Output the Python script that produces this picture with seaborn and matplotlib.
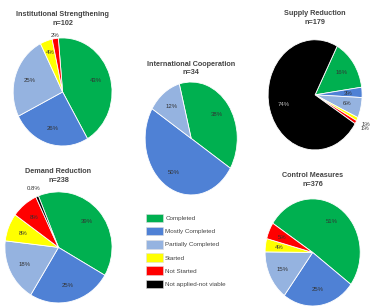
import numpy as np
import matplotlib
matplotlib.use("Agg")
import matplotlib.pyplot as plt
from matplotlib.patches import Patch
import seaborn as sns

sns.set_theme(style="white")
plt.rcParams['font.family'] = ['Liberation Sans', 'DejaVu Sans']

categories = ["Completed", "Mostly Completed", "Partially Completed",
              "Started", "Not Started", "Not applied-not viable"]
colors = ["#00B050", "#4F81D5", "#95B3E0", "#FFFF00", "#FF0000", "#000000"]

inst_values = [43, 26, 25, 4, 2, 0]
intl_values = [38, 50, 12, 0, 0, 0]
supply_values = [15, 3, 6, 1, 1, 74]
demand_values = [39, 25, 18, 8, 8, 0.8]
control_values = [51, 25, 15, 4, 5, 0]

inst_labels = ["43%", "26%", "25%", "4%", "2%", ""]
intl_labels = ["38%", "50%", "12%", "", "", ""]
supply_labels = ["16%", "3%", "6%", "1%", "1%", "74%"]
demand_labels = ["39%", "25%", "18%", "8%", "8%", "0.8%"]
control_labels = ["51%", "25%", "15%", "4%", "5%", ""]

fig = plt.figure(figsize=(3.76, 3.06), dpi=100)
fig.patch.set_facecolor("white")

def draw(rect, values, labels, title, n, startangle, title_y, radii=None):
    radii = radii or {}
    ax = fig.add_axes(rect)
    vals = np.array(values, dtype=float)
    idx = [i for i, v in enumerate(vals) if v > 0]
    wedges, _ = ax.pie(vals[idx], colors=[colors[i] for i in idx],
                       startangle=startangle, counterclock=False,
                       wedgeprops=dict(edgecolor="white", linewidth=0.6))
    ax.set_aspect("auto")
    ax.set_xlim(-1.0, 1.0)
    ax.set_ylim(-1.0, 1.0)
    for w, i in zip(wedges, idx):
        lab = labels[i]
        if not lab:
            continue
        ang = np.deg2rad((w.theta1 + w.theta2) / 2)
        r = radii.get(i, 0.7)
        tc = "#bbbbbb" if colors[i] == "#000000" and r < 1 else "#333333"
        ax.text(r * np.cos(ang), r * np.sin(ang), lab, ha="center", va="center",
                fontsize=4.3, color=tc, clip_on=False)
    ax.text(0, title_y, title + "\n" + n, ha="center", va="bottom",
            fontsize=5.2, fontweight="bold", color="#444444",
            linespacing=1.35, clip_on=False)
    ax.axis("off")
    return ax

draw([0.035, 0.523, 0.263, 0.353], inst_values, inst_labels,
     "Institutional Strengthening", "n=102", 95, 1.2, radii={4: 1.05, 3: 0.78})
draw([0.386, 0.363, 0.245, 0.369], intl_values, intl_labels,
     "International Cooperation", "n=34", 105, 1.1)
draw([0.713, 0.51, 0.25, 0.36], supply_values, supply_labels,
     "Supply Reduction", "n=179", 62, 1.25, radii={3: 1.2, 4: 1.22})
draw([0.013, 0.01, 0.285, 0.363], demand_values, demand_labels,
     "Demand Reduction", "n=238", 112, 1.14, radii={5: 1.15})
draw([0.705, 0.0, 0.253, 0.35], control_values, control_labels,
     "Control Measures", "n=376", 147, 1.2)

handles = [Patch(facecolor=c, edgecolor="#dddddd", linewidth=0.4) for c in colors]
fig.legend(handles, categories, loc="center", bbox_to_anchor=(0.495, 0.18),
           frameon=False, fontsize=4.5, handlelength=2.6, handleheight=1.7,
           labelspacing=0.75, handletextpad=0.4, labelcolor="#444444")

fig.savefig("out.png", dpi=100, facecolor="white")
